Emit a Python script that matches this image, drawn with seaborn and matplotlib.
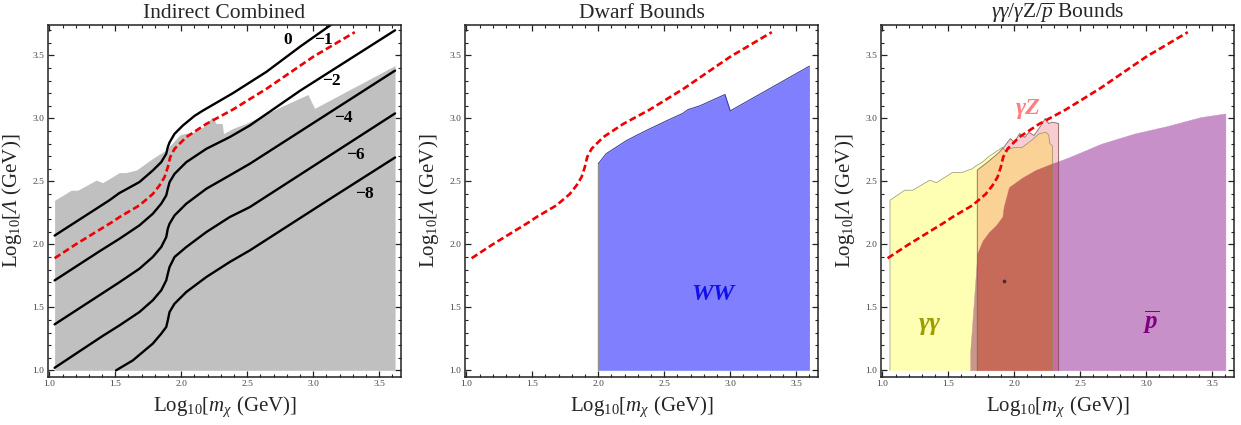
import numpy as np
import pandas as pd
import matplotlib
matplotlib.use("Agg")
import matplotlib.pyplot as plt
from matplotlib.ticker import MultipleLocator, FormatStrFormatter
import seaborn as sns

# ---------------- data ----------------
# thermal relic line (red dashed), same on every panel
relic_x = [1.04, 1.2, 1.48, 1.532, 1.683, 1.784, 1.835, 1.873, 1.898, 1.916, 1.949, 2.038, 2.19, 2.39,
           2.645, 3.0, 3.315]
relic_y = [1.89, 2.0, 2.18, 2.217, 2.31, 2.40, 2.468, 2.534, 2.614, 2.693, 2.759, 2.852, 2.957, 3.07,
           3.235, 3.49, 3.685]

# panel 1: combined indirect bound (grey)
comb_x = [1.04, 1.165, 1.215, 1.355, 1.405, 1.53, 1.58, 1.66, 1.78, 1.885, 1.99, 2.025, 2.09, 2.165,
          2.235, 2.265, 2.31, 2.32, 2.39, 2.49, 2.57, 2.77, 2.96, 3.01, 3.62]
comb_top = [2.35, 2.43, 2.43, 2.51, 2.49, 2.57, 2.57, 2.59, 2.68, 2.75, 2.87, 2.88, 2.89, 2.93,
            3.01, 2.96, 2.96, 2.88, 2.92, 2.96, 3.0, 3.10, 3.19, 3.08, 3.42]

# panel 1: contour lines
c0_x = [1.04, 1.455, 1.53, 1.683, 1.784, 1.848, 1.886, 1.898, 1.911, 1.949, 2.012, 2.10, 2.16, 2.39,
        2.645, 2.90, 3.13]
c0_y = [2.07, 2.35, 2.407, 2.495, 2.587, 2.653, 2.72, 2.773, 2.81, 2.878, 2.944, 3.02, 3.06, 3.20,
        3.37, 3.57, 3.74]
c1_x = [1.04, 1.38, 1.532, 1.683, 1.784, 1.848, 1.886, 1.898, 1.911, 1.949, 2.038, 2.19, 2.367, 2.519,
        2.90, 3.62]
c1_y = [1.714, 1.945, 2.045, 2.151, 2.243, 2.323, 2.389, 2.442, 2.494, 2.56, 2.653, 2.759, 2.852, 2.944,
        3.22, 3.70]
c2_x = [1.04, 1.40, 1.532, 1.683, 1.784, 1.848, 1.886, 1.898, 1.911, 1.949, 2.038, 2.19, 2.367, 2.519, 3.62]
c2_y = [1.365, 1.61, 1.70, 1.807, 1.90, 1.979, 2.058, 2.125, 2.164, 2.23, 2.323, 2.442, 2.548, 2.64, 3.38]
c3_x = [1.04, 1.40, 1.532, 1.683, 1.784, 1.848, 1.886, 1.898, 1.911, 1.949, 2.038, 2.19, 2.367, 2.519, 3.62]
c3_y = [1.02, 1.27, 1.357, 1.463, 1.556, 1.635, 1.714, 1.767, 1.82, 1.90, 1.979, 2.098, 2.217, 2.296, 3.04]
c4_x = [1.506, 1.633, 1.784, 1.848, 1.886, 1.898, 1.911, 1.949, 2.038, 2.19, 2.367, 2.519, 3.11, 3.62]
c4_y = [1.0, 1.079, 1.212, 1.291, 1.344, 1.397, 1.463, 1.529, 1.622, 1.741, 1.86, 1.952, 2.35, 2.69]

contour_labels = ["0", "\u22121", "\u22122", "\u22124", "\u22126", "\u22128"]
contour_lab_x = [2.81, 3.075, 3.14, 3.23, 3.32, 3.39]
contour_lab_y = [3.62, 3.62, 3.30, 3.00, 2.71, 2.40]

# panel 2: dwarf WW bound
ww_x = [2.0, 2.06, 2.215, 2.365, 2.515, 2.64, 2.68, 2.77, 2.96, 3.0, 3.6]
ww_top = [2.64, 2.72, 2.825, 2.905, 2.98, 3.04, 3.07, 3.10, 3.19, 3.06, 3.415]

# panel 3: gamma-gamma, gamma-Z, antiproton bounds
gg_x = [1.058, 1.17, 1.23, 1.36, 1.41, 1.53, 1.60, 1.68, 1.72, 1.76, 1.81, 1.91, 1.93, 2.0, 2.06,
        2.13, 2.19, 2.24, 2.26, 2.27, 2.29]
gg_top = [2.35, 2.43, 2.43, 2.51, 2.49, 2.57, 2.57, 2.60, 2.63, 2.655, 2.70, 2.77, 2.745, 2.77, 2.77,
          2.825, 2.88, 2.89, 2.87, 2.80, 2.78]
gz_x = [1.72, 1.80, 1.88, 1.92, 1.97, 2.0, 2.04, 2.08, 2.11, 2.15, 2.20, 2.235, 2.26, 2.29, 2.335]
gz_top = [2.59, 2.655, 2.725, 2.77, 2.84, 2.81, 2.88, 2.85, 2.89, 2.865, 2.94, 3.0, 2.96, 2.97, 2.96]
pb_x = [1.666, 1.72, 1.76, 1.81, 1.86, 1.91, 1.92, 1.96, 2.06, 2.16, 2.28, 2.41, 2.66, 2.91, 3.16, 3.41, 3.60]
pb_top = [1.15, 1.93, 2.03, 2.10, 2.15, 2.22, 2.30, 2.455, 2.53, 2.59, 2.64, 2.69, 2.80, 2.88, 2.94, 3.01, 3.04]
dot_x = [1.92]
dot_y = [1.71]

floor_y = 1.0

# ---------------- style ----------------
sns.set_theme(style="ticks")
plt.rcParams['font.family'] = ['Liberation Serif', 'DejaVu Serif']
plt.rcParams['mathtext.fontset'] = 'custom'
plt.rcParams['mathtext.rm'] = 'Liberation Serif'
plt.rcParams['mathtext.it'] = 'Liberation Serif:italic'
plt.rcParams['mathtext.bf'] = 'Liberation Serif:italic:bold'
plt.rcParams['mathtext.sf'] = 'Liberation Serif:italic'
plt.rcParams['mathtext.fallback'] = 'stix'
plt.rcParams['axes.edgecolor'] = '#222222'
plt.rcParams['axes.linewidth'] = 1.1

fig = plt.figure(figsize=(12.41, 4.25), dpi=100)
lefts = [48 / 1241, 465 / 1241, 881 / 1241]
axes = [fig.add_axes([l, 48 / 425, 353 / 1241, 352 / 425]) for l in lefts]
titles = ["Indirect Combined", "Dwarf Bounds", r"$\gamma\gamma/\gamma\mathrm{Z}/\overline{p}$ Bounds"]

for ax, t in zip(axes, titles):
    ax.set_xlim(0.99, 3.665)
    ax.set_ylim(0.947, 3.742)
    ax.xaxis.set_major_locator(MultipleLocator(0.5))
    ax.xaxis.set_minor_locator(MultipleLocator(0.1))
    ax.yaxis.set_major_locator(MultipleLocator(0.5))
    ax.yaxis.set_minor_locator(MultipleLocator(0.1))
    ax.xaxis.set_major_formatter(FormatStrFormatter('%.1f'))
    ax.yaxis.set_major_formatter(FormatStrFormatter('%.1f'))
    ax.tick_params(which='both', direction='in', top=True, right=True, labelsize=6.8,
                   labelcolor='#444444', color='#222222', pad=2.5)
    ax.tick_params(which='major', length=4, width=0.9)
    ax.tick_params(which='minor', length=2.5, width=0.8)
    ax.set_title(t, fontsize=15.5, pad=5)
    ax.grid(False)

# ---------------- panel 1 ----------------
ax = axes[0]
ax.fill_between(comb_x, floor_y, comb_top, color='#C0C0C0', lw=0)
frames = []
for i, (cx, cy) in enumerate([(c0_x, c0_y), (c1_x, c1_y), (c2_x, c2_y), (c3_x, c3_y), (c4_x, c4_y)]):
    frames.append(pd.DataFrame({'x': cx, 'y': cy, 'level': i}))
cdf = pd.concat(frames, ignore_index=True)
sns.lineplot(data=cdf, x='x', y='y', units='level', estimator=None, sort=False,
             color='black', lw=1.7, ax=ax, legend=False)
for lab, lx, ly in zip(contour_labels, contour_lab_x, contour_lab_y):
    ax.text(lx, ly, lab, fontsize=12.5, fontweight='bold', ha='center', va='center', color='black')

# ---------------- panel 2 ----------------
ax = axes[1]
ax.fill_between(ww_x, floor_y, ww_top, color='#8080FF', lw=0)
ax.plot(ww_x, ww_top, color='#4040A8', lw=0.8)
ax.plot([ww_x[0], ww_x[0]], [floor_y, ww_top[0]], color='#909090', lw=1.0)
ax.text(2.87, 1.6, 'WW', color='#1010E8', fontsize=17.5, fontweight='bold', fontstyle='italic',
        ha='center', va='center')

# ---------------- panel 3 ----------------
ax = axes[2]
regions = [(gg_x, gg_top), (gz_x, gz_top), (pb_x, pb_top)]
edges = []
for rx, _ in regions:
    edges += [rx[0] - 1e-6, rx[-1] + 1e-6]
xs = np.unique(np.concatenate([np.linspace(1.0, 3.7, 4000)] + [np.asarray(r[0]) for r in regions] + [np.asarray(edges)]))
tops = []
for rx, rt in regions:
    tt = np.interp(xs, rx, rt)
    tt[(xs < rx[0]) | (xs > rx[-1])] = floor_y
    tops.append(tt)
tops = np.array(tops)
zone_colors = {
    (1, 0, 0): '#FFFFB4',
    (0, 1, 0): '#F8CDD2',
    (0, 0, 1): '#C890C8',
    (1, 1, 0): '#FAD296',
    (1, 0, 1): '#C8968A',
    (0, 1, 1): '#CD69A5',
    (1, 1, 1): '#C66A5A',
}
for combo, col in zone_colors.items():
    inside = [k for k in range(3) if combo[k]]
    outside = [k for k in range(3) if not combo[k]]
    upper = tops[inside].min(axis=0)
    lower = np.full_like(xs, floor_y)
    if outside:
        lower = np.maximum(lower, tops[outside].max(axis=0))
    ax.fill_between(xs, lower, upper, where=upper > lower, interpolate=True,
                    facecolor=col, edgecolor=col, lw=0.3)
# region outlines
ax.plot([gg_x[0]] + gg_x + [gg_x[-1]], [floor_y] + gg_top + [floor_y], color='#8C8C60', lw=0.6, alpha=0.8)
ax.plot([gz_x[0]] + gz_x + [gz_x[-1]], [floor_y] + gz_top + [floor_y], color='#7A5656', lw=0.7, alpha=0.8)
ax.scatter(dot_x, dot_y, s=3, color='#4A3030', zorder=3)
ax.text(2.11, 3.08, '\u03b3Z', color='#FF7F7F', fontsize=17.5, fontweight='bold', fontstyle='italic',
        ha='center', va='center')
ax.text(1.36, 1.37, '\u03b3\u03b3', color='#9E9E00', fontsize=19, fontweight='bold', fontstyle='italic',
        ha='center', va='center')
ax.text(3.04, 1.38, r'$\overline{\mathbf{p}}$', color='#800080', fontsize=18, ha='center', va='center')

# relic line on all panels, axis labels
for ax in axes:
    sns.lineplot(x=relic_x, y=relic_y, sort=False, estimator=None, color='#F00000', lw=1.9,
                 linestyle=(0, (2.6, 1.3)), ax=ax)
    ax.set_xlabel(r"Log$_{10}$[$m_\chi$ (GeV)]", fontsize=15, labelpad=4)
    ax.set_ylabel(r"Log$_{10}$[$\mathsf{\Lambda}$ (GeV)]", fontsize=15, labelpad=6)

fig.savefig("out.png", dpi=100)
